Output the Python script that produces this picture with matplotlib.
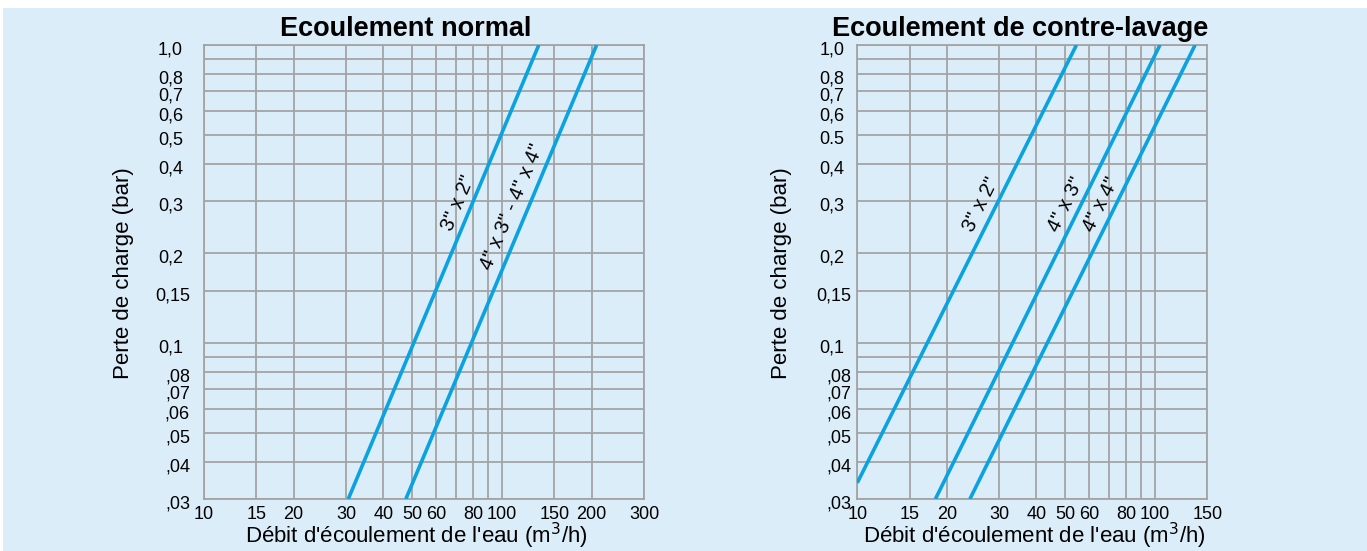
import matplotlib
matplotlib.use("Agg")
import matplotlib.pyplot as plt
import matplotlib.transforms as mtransforms
from matplotlib.patches import Rectangle
from matplotlib.ticker import NullLocator, NullFormatter

# ---------------- data ----------------
left_title = "Ecoulement normal"
right_title = "Ecoulement de contre-lavage"
x_label = "Débit d'écoulement de l'eau (m$^{3}$/h)"
y_label = "Perte de charge (bar)"

left_x_ticks = [10, 15, 20, 30, 40, 50, 60, 70, 80, 90, 100, 150, 200, 300]
left_x_labels = ["10", "15", "20", "30", "40", "50", "60", "", "80", "", "100", "150", "200", "300"]
right_x_ticks = [10, 15, 20, 30, 40, 50, 60, 70, 80, 90, 100, 150]
right_x_labels = ["10", "15", "20", "30", "40", "50", "60", "", "80", "", "100", "150"]

y_ticks = [1.0, 0.9, 0.8, 0.7, 0.6, 0.5, 0.4, 0.3, 0.2, 0.15, 0.1, 0.09,
           0.08, 0.07, 0.06, 0.05, 0.04, 0.03]
left_y_labels = ["1,0", "", "0,8", "0,7", "0,6", "0,5", "0,4", "0,3", "0,2", "0,15",
                 "0,1", "", ",08", ",07", ",06", ",05", ",04", ",03"]
right_y_labels = ["1,0", "", "0,8", "0,7", "0,6", "0.5", "0,4", "0,3", "0,2", "0,15",
                  "0,1", "", ",08", ",07", ",06", ",05", ",04", ",03"]

# left chart series (flow m3/h, pressure loss bar)
left_names = ['3" x 2"', '4" x 3" - 4" x 4"']
left_flow = [[30.5, 133.0], [47.6, 208.0]]
left_loss = [[0.03, 1.0], [0.03, 1.0]]
left_label_pos = [(71.6, 0.295), (108.5, 0.287)]

# right chart series
right_names = ['3" x 2"', '4" x 3"', '4" x 4"']
right_flow = [[10.0, 54.5], [18.3, 104.0], [23.9, 136.5]]
right_loss = [[0.034, 1.0], [0.03, 1.0], [0.03, 1.0]]
right_label_pos = [(26.0, 0.291), (50.4, 0.291), (66.0, 0.291)]

# ---------------- style ----------------
W, H = 1367, 551
BG = "#dcedfa"
GRID = "#a3a3a3"
LINE = "#0aa2e0"
FONT = ["Liberation Sans", "DejaVu Sans"]
TICKFONT = ["Liberation Sans Narrow", "Liberation Sans", "DejaVu Sans"]

plt.rcParams["font.family"] = FONT

fig = plt.figure(figsize=(W / 100, H / 100), dpi=100)
fig.patch.set_facecolor("white")
fig.add_artist(Rectangle((3 / W, 0), 1 - 3 / W, 543 / H, transform=fig.transFigure,
                         facecolor=BG, edgecolor="none", zorder=-10))

ax1 = fig.add_axes([204 / W, 52 / H, 440 / W, 454 / H])
ax2 = fig.add_axes([857.3 / W, 52 / H, 350 / W, 454 / H])


def setup(ax, xlim, xticks, xlabels, ylabels, ypad_px, short_shift_px):
    ax.set_facecolor("none")
    ax.set_xscale("log")
    ax.set_yscale("log")
    ax.set_xlim(*xlim)
    ax.set_ylim(0.03, 1.0)
    ax.set_xticks(xticks)
    ax.set_xticklabels(xlabels)
    ax.set_yticks(y_ticks)
    ax.set_yticklabels(ylabels)
    ax.xaxis.set_minor_locator(NullLocator())
    ax.yaxis.set_minor_locator(NullLocator())
    ax.xaxis.set_minor_formatter(NullFormatter())
    ax.yaxis.set_minor_formatter(NullFormatter())
    ax.grid(True, which="major", color=GRID, lw=1.3)
    ax.set_axisbelow(True)
    for s in ax.spines.values():
        s.set_color(GRID)
        s.set_linewidth(1.3)
    ax.tick_params(axis="both", length=0, labelsize=13, colors="black")
    ax.tick_params(axis="x", pad=5)
    ax.tick_params(axis="y", pad=ypad_px * 0.72)
    for lab in ax.get_xticklabels():
        lab.set_family(TICKFONT)
    for lab in ax.get_yticklabels():
        lab.set_family(TICKFONT)
        txt = lab.get_text()
        dx = -short_shift_px if (len(txt) == 3 and not txt.startswith(",")) else 0
        off = mtransforms.ScaledTranslation(dx / 100, -3 / 100, fig.dpi_scale_trans)
        lab.set_transform(lab.get_transform() + off)


setup(ax1, (10, 300), left_x_ticks, left_x_labels, left_y_labels, 14, 7)
setup(ax2, (10, 150), right_x_ticks, right_x_labels, right_y_labels, 6, 7)

for q, p in zip(left_flow, left_loss):
    ax1.plot(q, p, color=LINE, lw=2.6, solid_capstyle="butt", zorder=3)
for name, (q, p) in zip(left_names, left_label_pos):
    ax1.text(q, p, name, rotation=67, rotation_mode="anchor", ha="center", va="center",
             fontsize=14.5, zorder=4)

for q, p in zip(right_flow, right_loss):
    ax2.plot(q, p, color=LINE, lw=2.6, solid_capstyle="butt", zorder=3)
for name, (q, p) in zip(right_names, right_label_pos):
    ax2.text(q, p, name, rotation=63.5, rotation_mode="anchor", ha="center", va="center",
             fontsize=14.5, zorder=4)

# titles
fig.text(406 / W, 1 - 36 / H, left_title, ha="center", va="baseline",
         fontsize=19.5, fontweight="bold")
fig.text(1020 / W, 1 - 36 / H, right_title, ha="center", va="baseline",
         fontsize=19.5, fontweight="bold")

# axis labels
fig.text(416 / W, 1 - 543 / H, x_label, ha="center", va="baseline", fontsize=16)
fig.text(1034 / W, 1 - 543 / H, x_label, ha="center", va="baseline", fontsize=16)
fig.text(124 / W, 1 - 273 / H, y_label, ha="center", va="center", rotation=90, fontsize=16)
fig.text(782 / W, 1 - 273 / H, y_label, ha="center", va="center", rotation=90, fontsize=16)

fig.savefig("out.png", dpi=100, facecolor=fig.get_facecolor())
